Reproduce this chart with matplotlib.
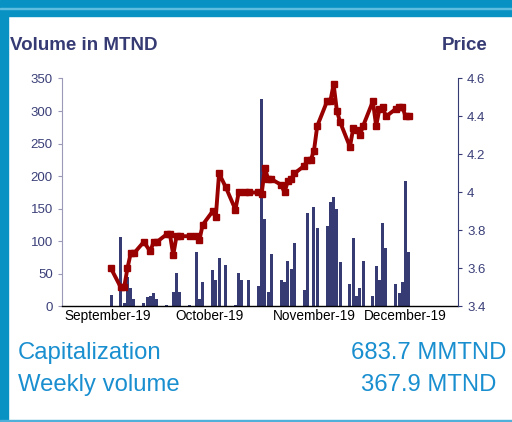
"""
Volume / price chart with capitalization summary.
"""

import matplotlib
matplotlib.use("Agg")
import matplotlib.pyplot as plt
import matplotlib.dates as mdates
from matplotlib.patches import Rectangle
import pandas as pd

plt.rcParams["font.family"] = ["Liberation Sans", "DejaVu Sans"]

# Daily traded volume (MTND)
vol_dates = [
    "2019-08-30", "2019-09-02", "2019-09-03", "2019-09-04", "2019-09-05", "2019-09-06",
    "2019-09-09", "2019-09-10", "2019-09-11", "2019-09-12", "2019-09-13",
    "2019-09-16", "2019-09-18", "2019-09-19", "2019-09-20",
    "2019-09-23", "2019-09-25", "2019-09-26", "2019-09-27",
    "2019-09-30", "2019-10-01", "2019-10-02", "2019-10-04",
    "2019-10-07", "2019-10-08", "2019-10-09", "2019-10-11",
    "2019-10-14", "2019-10-15", "2019-10-16", "2019-10-17", "2019-10-18",
    "2019-10-21", "2019-10-22", "2019-10-23", "2019-10-24", "2019-10-25",
    "2019-10-28", "2019-10-29", "2019-10-31", "2019-11-01",
    "2019-11-04", "2019-11-05", "2019-11-06", "2019-11-07", "2019-11-08",
    "2019-11-11", "2019-11-12", "2019-11-13", "2019-11-14", "2019-11-15",
    "2019-11-18", "2019-11-19", "2019-11-20", "2019-11-21", "2019-11-22",
    "2019-11-25", "2019-11-26", "2019-11-27", "2019-11-28", "2019-11-29",
]
volumes = [
    18, 107, 5, 45, 29, 12,
    5, 14, 16, 21, 12,
    2, 22, 52, 22,
    3, 84, 12, 38,
    56, 40, 75, 64,
    3, 52, 41, 41,
    32, 319, 135, 23, 81,
    40, 38, 70, 58, 97,
    25, 143, 153, 121,
    124, 161, 168, 150, 69,
    35, 105, 16, 29, 70,
    16, 62, 40, 128, 90,
    35, 20, 38, 192, 84,
]

# Closing price
price_dates = [
    "2019-08-30", "2019-09-02", "2019-09-03", "2019-09-04", "2019-09-05", "2019-09-06",
    "2019-09-09", "2019-09-11", "2019-09-12", "2019-09-13",
    "2019-09-16", "2019-09-17", "2019-09-18", "2019-09-19", "2019-09-20",
    "2019-09-23", "2019-09-25", "2019-09-26", "2019-09-27",
    "2019-09-30", "2019-10-01", "2019-10-02", "2019-10-04",
    "2019-10-07", "2019-10-08", "2019-10-10", "2019-10-11",
    "2019-10-14", "2019-10-15", "2019-10-16", "2019-10-17", "2019-10-18",
    "2019-10-21", "2019-10-22", "2019-10-23", "2019-10-24", "2019-10-25",
    "2019-10-28", "2019-10-29", "2019-10-30", "2019-10-31", "2019-11-01",
    "2019-11-04", "2019-11-05", "2019-11-06", "2019-11-07", "2019-11-08",
    "2019-11-11", "2019-11-12", "2019-11-13", "2019-11-14", "2019-11-15",
    "2019-11-18", "2019-11-19", "2019-11-20", "2019-11-21", "2019-11-22",
    "2019-11-25", "2019-11-26", "2019-11-27", "2019-11-28", "2019-11-29",
]
prices = [
    3.60, 3.50, 3.50, 3.60, 3.68, 3.68,
    3.74, 3.69, 3.74, 3.74,
    3.78, 3.78, 3.67, 3.77, 3.77,
    3.77, 3.77, 3.75, 3.83,
    3.90, 3.87, 4.10, 4.03,
    3.91, 4.00, 4.00, 4.00,
    4.00, 3.99, 4.13, 4.07, 4.07,
    4.04, 4.00, 4.06, 4.07, 4.10,
    4.14, 4.17, 4.17, 4.22, 4.35,
    4.48, 4.48, 4.57, 4.43, 4.37,
    4.24, 4.34, 4.33, 4.30, 4.35,
    4.48, 4.35, 4.44, 4.45, 4.40,
    4.44, 4.45, 4.45, 4.40, 4.40,
]

month_tick_dates = ["2019-08-29", "2019-09-29", "2019-10-31", "2019-11-28"]
month_labels = ["September-19", "October-19", "November-19", "December-19"]

summary_labels = ["Capitalization", "Weekly volume"]
summary_values = ["683.7 MMTND", "367.9 MTND"]

navy = "#363b74"
red = "#990000"
blue = "#1a8fd0"

xv = mdates.date2num(pd.to_datetime(vol_dates))
xp = mdates.date2num(pd.to_datetime(price_dates))
xt = mdates.date2num(pd.to_datetime(month_tick_dates))
x_lo, x_hi = mdates.date2num(pd.to_datetime(["2019-08-15", "2019-12-14"]))

fig = plt.figure(figsize=(5.12, 4.22), dpi=100)

# frame decoration
fig.patches.append(Rectangle((0, 0.962), 1, 0.038, transform=fig.transFigure,
                             color="#0892c4", zorder=0))
fig.patches.append(Rectangle((0, 0.979), 1, 0.003, transform=fig.transFigure,
                             color="#5fbde0", zorder=1))
fig.patches.append(Rectangle((0, 0), 0.016, 0.97, transform=fig.transFigure,
                             color="#0892c4", zorder=0))
fig.patches.append(Rectangle((0, 0.0), 1, 0.005, transform=fig.transFigure,
                             color="#4fb0da", zorder=0))

ax = fig.add_axes([0.121, 0.2737, 0.7735, 0.5403])
ax.bar(xv, volumes, width=0.92, color=navy, linewidth=0, zorder=1)
ax.set_ylim(0, 350)
ax.set_yticks(range(0, 351, 50))
ax.set_xlim(x_lo, x_hi)
ax.set_xticks(xt)
ax.set_xticklabels(month_labels, fontsize=9.8, color="black")
ax.tick_params(axis="x", length=0, pad=2)
ax.tick_params(axis="y", labelsize=9.5, labelcolor="#3a3f78", length=3,
               color="#9a9ab8", width=0.8)
for side in ["top", "right"]:
    ax.spines[side].set_visible(False)
ax.spines["left"].set_color("#9a9ab8")
ax.spines["bottom"].set_color("black")
ax.spines["bottom"].set_linewidth(1.0)

ax2 = ax.twinx()
ax2.plot(xp, prices, color=red, linewidth=2.8, marker="s", markersize=4.5,
         zorder=3)
ax2.set_ylim(3.4, 4.6)
ax2.set_yticks([3.4, 3.6, 3.8, 4.0, 4.2, 4.4, 4.6])
ax2.set_yticklabels(["3.4", "3.6", "3.8", "4", "4.2", "4.4", "4.6"])
ax2.tick_params(axis="y", labelsize=9.5, labelcolor="#3a3f78", length=3,
                color="#363b74", width=0.8)
for side in ["top", "left", "bottom"]:
    ax2.spines[side].set_visible(False)
ax2.spines["right"].set_color(navy)

fig.text(0.02, 0.893, "Volume in MTND", fontsize=13.5, fontweight="bold",
         color="#363b74", va="center", ha="left")
fig.text(0.952, 0.893, "Price", fontsize=13.5, fontweight="bold",
         color="#363b74", va="center", ha="right")

for i, (lab, val) in enumerate(zip(summary_labels, summary_values)):
    y = 0.164 - i * 0.076
    fig.text(0.035, y, lab, fontsize=17.2, color=blue, va="center", ha="left")
    fig.text(0.837, y, val, fontsize=17.2, color=blue, va="center", ha="center")

fig.savefig("out.png", dpi=100)
